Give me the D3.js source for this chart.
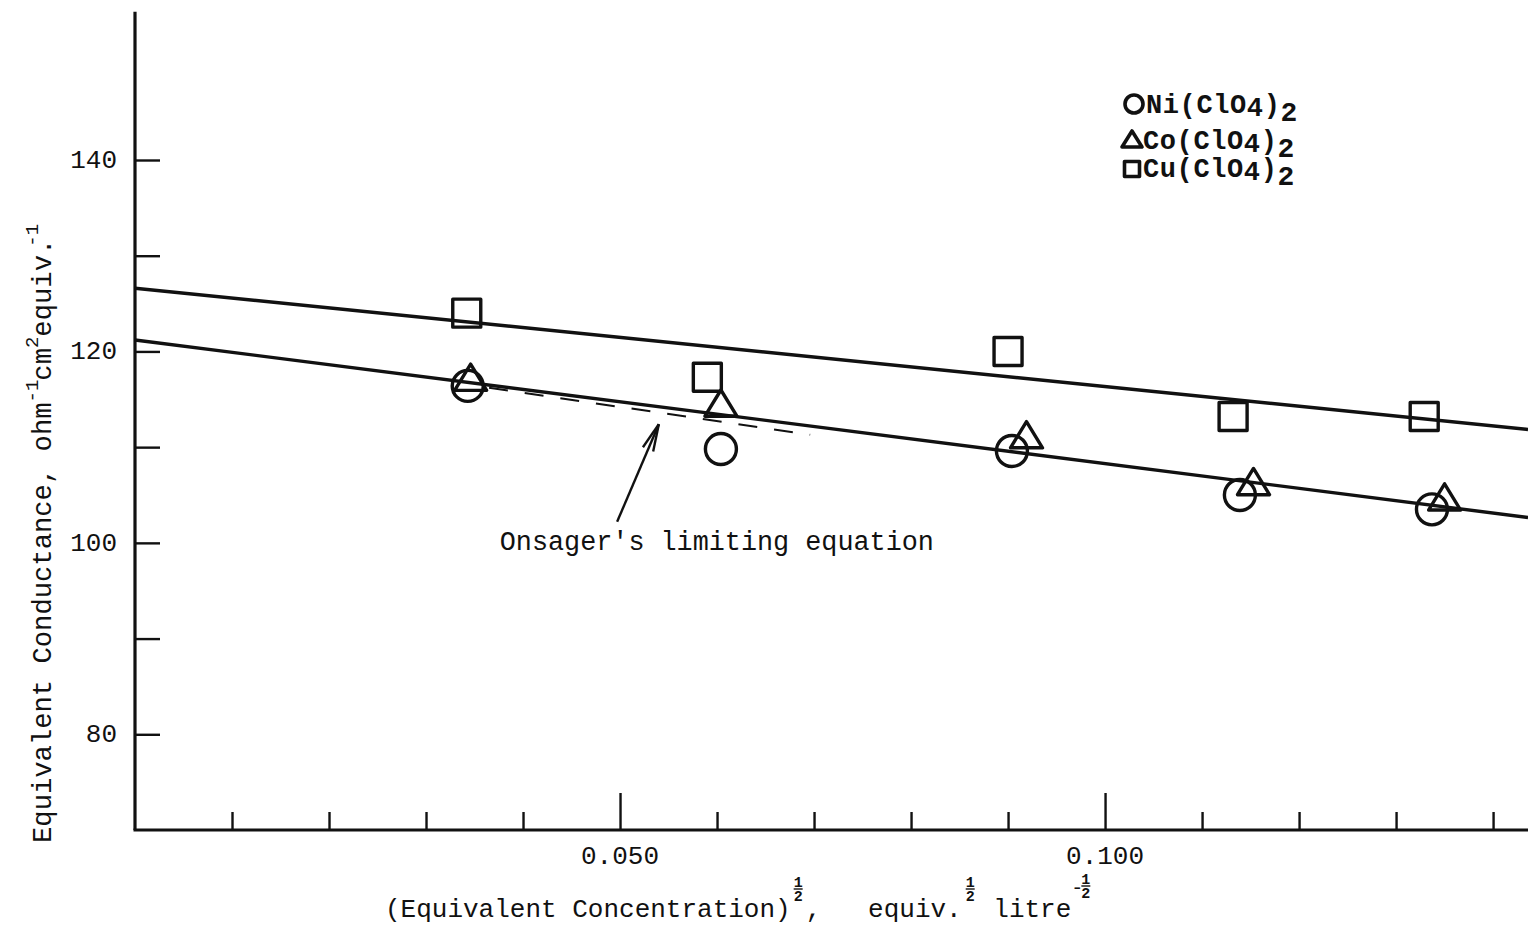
<!DOCTYPE html>
<html>
<head>
<meta charset="utf-8">
<script src="https://cdn.jsdelivr.net/npm/d3@7"></script>
<style>
  html, body { margin: 0; padding: 0; background: #fff; }
  svg { display: block; }
  text { font-family: "Liberation Mono", "DejaVu Sans Mono", monospace; fill: #111; }
</style>
</head>
<body>
<svg id="chart" width="1528" height="927"></svg>
<script>
// (equivalent concentration)^1/2 and equivalent conductance for each salt
const niX = [0.0343, 0.0604, 0.0904, 0.1139, 0.1337];
const niY = [116.4, 109.8, 109.6, 105.0, 103.5];
const coX = [0.0346, 0.0604, 0.0919, 0.1153, 0.1350];
const coY = [117.3, 114.6, 111.3, 106.4, 104.8];
const cuX = [0.0342, 0.0590, 0.0900, 0.1132, 0.1329];
const cuY = [124.0, 117.3, 120.0, 113.2, 113.2];

// straight lines drawn through the points (end values)
const fitX = [0, 0.1436];
const cuFit = [126.6, 111.85];
const niCoFit = [121.2, 102.65];

// Onsager limiting-law segment
const onsagerX = [0.0365, 0.0696];
const onsagerY = [116.2, 111.3];
const arrowX = [0.0497, 0.0540];
const arrowY = [102.2, 112.4];
const onsagerLabel = "Onsager's limiting equation";
const onsagerLabelAt = [0.0376, 99.25];

// axes
const xTicks = [0.01, 0.02, 0.03, 0.04, 0.05, 0.06, 0.07, 0.08, 0.09, 0.10, 0.11, 0.12, 0.13, 0.14];
const xMajor = [0.05, 0.10];
const xTickLabels = ["0.050", "0.100"];
const yTicks = [80, 90, 100, 110, 120, 130, 140];
const yTickLabels = [80, 100, 120, 140];

const legendNames = ["Ni", "Co", "Cu"];
const legendSymbols = ["circle", "triangle", "square"];

const svg = d3.select("#chart");
const ink = "#111";

const x = d3.scaleLinear().domain([0, 0.1436]).range([135, 1528]);
const y = d3.scaleLinear().domain([70, 140]).range([830, 160]);
const yTop = 155.5;

// ---- axes ----
const axes = svg.append("g").attr("stroke", ink).attr("fill", "none");
axes.append("line")
  .attr("x1", x(0)).attr("x2", x(0))
  .attr("y1", y(70)).attr("y2", y(yTop))
  .attr("stroke-width", 3.2);
axes.append("line")
  .attr("x1", x(0) - 1.5).attr("x2", x.range()[1])
  .attr("y1", y(70)).attr("y2", y(70))
  .attr("stroke-width", 3.2);

const xAxis = d3.axisBottom(x).tickValues(xTicks).tickSize(0).tickFormat("");
const xAxisG = svg.append("g").attr("transform", `translate(0,${y(70)})`).call(xAxis);
xAxisG.select(".domain").remove();
xAxisG.selectAll(".tick line")
  .attr("stroke", ink).attr("stroke-width", 2.4)
  .attr("y1", 0)
  .attr("y2", d => xMajor.some(m => Math.abs(m - d) < 1e-9) ? -37 : -18);

const yAxis = d3.axisLeft(y).tickValues(yTicks).tickSize(0).tickFormat("");
const yAxisG = svg.append("g").attr("transform", `translate(${x(0)},0)`).call(yAxis);
yAxisG.select(".domain").remove();
yAxisG.selectAll(".tick line")
  .attr("stroke", ink).attr("stroke-width", 2.4)
  .attr("x1", 0).attr("x2", 25);

// tick labels
svg.append("g").selectAll("text").data(yTickLabels).join("text")
  .attr("x", 117).attr("y", d => y(d) + 8)
  .attr("text-anchor", "end")
  .attr("font-size", 26)
  .text(d => d);

svg.append("g").selectAll("text").data(xMajor).join("text")
  .attr("x", d => x(d)).attr("y", y(70) + 34)
  .attr("text-anchor", "middle")
  .attr("font-size", 26)
  .text((d, i) => xTickLabels[i]);

// ---- rich text builder: runs of text, superscripts and stacked 1/2 ----
function rich(g, x0, y0, parts, baseSize) {
  let cx = x0;
  parts.forEach(p => {
    if (p.gap) { cx += p.gap; return; }
    if (p.frac) {
      const fs = 15;
      const mid = y0 + (p.dy || -28);
      const w = 11;
      g.append("text").attr("x", cx + w / 2).attr("y", mid - 2)
        .attr("text-anchor", "middle").attr("font-size", fs).attr("font-weight", "bold").text("1");
      g.append("line").attr("x1", cx + 1).attr("x2", cx + w - 1)
        .attr("y1", mid).attr("y2", mid)
        .attr("stroke", ink).attr("stroke-width", 1.4);
      g.append("text").attr("x", cx + w / 2).attr("y", mid + 12)
        .attr("text-anchor", "middle").attr("font-size", fs).attr("font-weight", "bold").text("2");
      cx += w + 2;
      return;
    }
    const t = g.append("text").attr("x", cx).attr("y", y0 + (p.dy || 0))
      .attr("font-size", p.size || baseSize || 26)
      .style("white-space", "pre")
      .text(p.t);
    cx += t.node().getComputedTextLength() + (p.after || 0);
  });
  return cx;
}

// x axis title
const xTitle = svg.append("g");
rich(xTitle, 385, 917, [
  { t: "(Equivalent Concentration)" },
  { gap: 2 },
  { frac: true },
  { t: ",   equiv." },
  { gap: 3 },
  { frac: true },
  { t: " litre" },
  { t: "-", size: 20, dy: -23, after: -3 },
  { frac: true, dy: -31 }
]);

// y axis title (rotated)
const yTitle = svg.append("g").attr("transform", "translate(51,843) rotate(-90)");
rich(yTitle, 0, 0, [
  { t: "Equivalent Conductance, ohm" },
  { t: "-1", size: 19, dy: -13, after: -1 },
  { t: "cm" },
  { t: "2", size: 19, dy: -13 },
  { t: "equiv." , after: -8},
  { t: "-1", size: 19, dy: -13 }
], 27.2);

// ---- fitted lines ----
const line = d3.line().x(d => x(d[0])).y(d => y(d[1]));
svg.append("path")
  .datum(fitX.map((v, i) => [v, cuFit[i]]))
  .attr("d", line).attr("fill", "none")
  .attr("stroke", ink).attr("stroke-width", 3.4);
svg.append("path")
  .datum(fitX.map((v, i) => [v, niCoFit[i]]))
  .attr("d", line).attr("fill", "none")
  .attr("stroke", ink).attr("stroke-width", 3.4);

// Onsager segment (dashed)
svg.append("path")
  .datum(onsagerX.map((v, i) => [v, onsagerY[i]]))
  .attr("d", line).attr("fill", "none")
  .attr("stroke", ink).attr("stroke-width", 2)
  .attr("stroke-dasharray", "19,17");

// arrow
const ax0 = x(arrowX[0]), ay0 = y(arrowY[0]), ax1 = x(arrowX[1]), ay1 = y(arrowY[1]);
svg.append("line")
  .attr("x1", ax0).attr("y1", ay0).attr("x2", ax1).attr("y2", ay1)
  .attr("stroke", ink).attr("stroke-width", 2.4);
const ang = Math.atan2(ay1 - ay0, ax1 - ax0);
const headLen = 28, headSpread = 0.2;
[-1, 1].forEach(s => {
  svg.append("line")
    .attr("x1", ax1).attr("y1", ay1)
    .attr("x2", ax1 - headLen * Math.cos(ang + s * headSpread))
    .attr("y2", ay1 - headLen * Math.sin(ang + s * headSpread))
    .attr("stroke", ink).attr("stroke-width", 2.4);
});

svg.append("text")
  .attr("x", x(onsagerLabelAt[0])).attr("y", y(onsagerLabelAt[1]))
  .attr("font-size", 26.8)
  .style("white-space", "pre")
  .text(onsagerLabel);

// ---- markers ----
// triangle centred on its bounding box, width w and height h derived from size
function boxTriangle(ratio) {
  return {
    draw(ctx, size) {
      const w = Math.sqrt(size), h = w * ratio;
      ctx.moveTo(0, -h / 2);
      ctx.lineTo(w / 2, h / 2);
      ctx.lineTo(-w / 2, h / 2);
      ctx.closePath();
    }
  };
}
const markerStroke = 3.4;
const sym = {
  circle: d3.symbol().type(d3.symbolCircle).size(Math.PI * 15.5 * 15.5),
  triangle: d3.symbol().type(boxTriangle(0.82)).size(32 * 32),
  square: d3.symbol().type(d3.symbolSquare).size(28 * 28)
};
const legSym = {
  circle: d3.symbol().type(d3.symbolCircle).size(Math.PI * 9 * 9),
  triangle: d3.symbol().type(boxTriangle(0.8)).size(20 * 20),
  square: d3.symbol().type(d3.symbolSquare).size(15 * 15)
};

function drawSeries(xs, ys, kind) {
  svg.append("g").selectAll("path")
    .data(xs.map((v, i) => [v, ys[i]]))
    .join("path")
    .attr("transform", d => `translate(${x(d[0])},${y(d[1])})`)
    .attr("d", sym[kind]())
    .attr("fill", "none")
    .attr("stroke", ink)
    .attr("stroke-width", markerStroke)
    .attr("stroke-linejoin", "round");
}
drawSeries(niX, niY, "circle");
drawSeries(coX, coY, "triangle");
drawSeries(cuX, cuY, "square");

// ---- legend ----
const legRows = [113, 149, 177];
const legTextX = [1146, 1143, 1143];
const legSymX = [1134, 1132, 1132];
const legSymY = [104, 139, 169];
legendNames.forEach((name, i) => {
  svg.append("path")
    .attr("transform", `translate(${legSymX[i]},${legSymY[i]})`)
    .attr("d", legSym[legendSymbols[i]]())
    .attr("fill", "none").attr("stroke", ink).attr("stroke-width", 3.6)
    .attr("stroke-linejoin", "round");
  const t = svg.append("text")
    .attr("x", legTextX[i]).attr("y", legRows[i])
    .attr("font-size", 27).attr("font-weight", "bold")
    .attr("letter-spacing", 0.6);
  t.append("tspan").text(name + "(ClO");
  t.append("tspan").attr("dy", 3).text("4");
  t.append("tspan").attr("dy", -3).text(")");
  t.append("tspan").attr("dy", 8).attr("font-size", 28).text("2");
});
</script>
</body>
</html>
